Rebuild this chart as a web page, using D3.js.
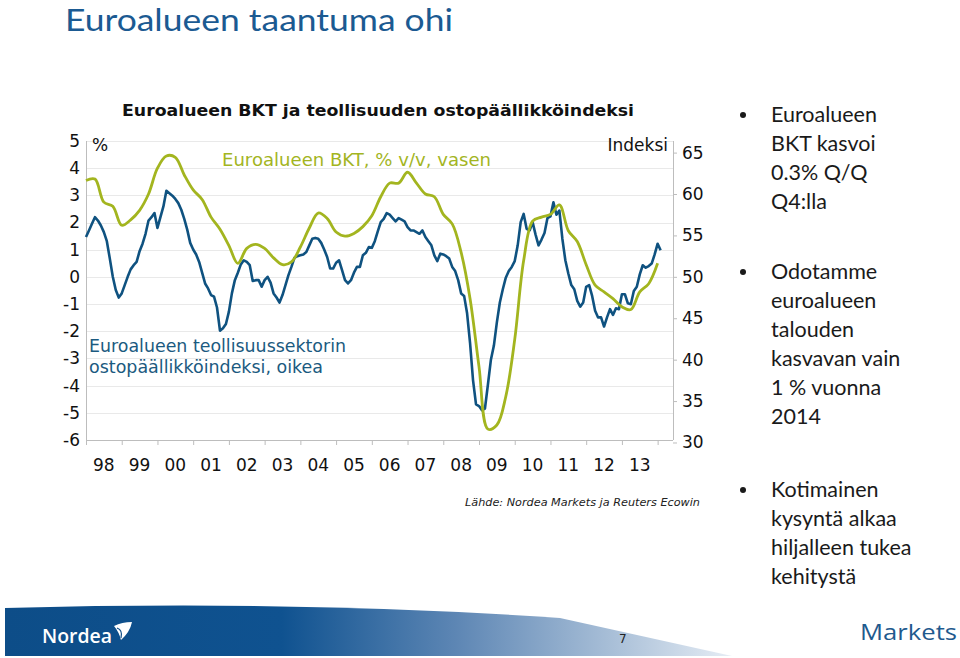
<!DOCTYPE html>
<html>
<head>
<meta charset="utf-8">
<script src="https://cdn.jsdelivr.net/npm/d3@7"></script>
<style>
  html, body { margin: 0; padding: 0; background: #fff; }
  svg { display: block; }
</style>
</head>
<body>
<script>
// ---------------- DATA ----------------
const pageTitle = "Euroalueen taantuma ohi";
const chartTitle = "Euroalueen BKT ja teollisuuden ostopäällikköindeksi";
const leftTicks = [5, 4, 3, 2, 1, 0, -1, -2, -3, -4, -5, -6];
const rightTicks = [30, 35, 40, 45, 50, 55, 60, 65];
const yearLabels = ["98","99","00","01","02","03","04","05","06","07","08","09","10","11","12","13"];
const firstYear = 1998;

// GDP y/y, quarterly (plotted at quarter end), 1997Q4 .. 2013Q4
const gdpQuarters = [
  "1997Q4",
  "1998Q1","1998Q2","1998Q3","1998Q4","1999Q1","1999Q2","1999Q3","1999Q4",
  "2000Q1","2000Q2","2000Q3","2000Q4","2001Q1","2001Q2","2001Q3","2001Q4",
  "2002Q1","2002Q2","2002Q3","2002Q4","2003Q1","2003Q2","2003Q3","2003Q4",
  "2004Q1","2004Q2","2004Q3","2004Q4","2005Q1","2005Q2","2005Q3","2005Q4",
  "2006Q1","2006Q2","2006Q3","2006Q4","2007Q1","2007Q2","2007Q3","2007Q4",
  "2008Q1","2008Q2","2008Q3","2008Q4","2009Q1","2009Q2","2009Q3","2009Q4",
  "2010Q1","2010Q2","2010Q3","2010Q4","2011Q1","2011Q2","2011Q3","2011Q4",
  "2012Q1","2012Q2","2012Q3","2012Q4","2013Q1","2013Q2","2013Q3","2013Q4"
];
const gdpValues = [
  3.55,
  3.6, 2.75, 2.6, 1.9, 2.1, 2.45, 3.05, 4.0,
  4.45, 4.4, 3.75, 3.2, 2.85, 2.2, 1.75, 1.15,
  0.5, 1.05, 1.2, 1.05, 0.7, 0.45, 0.55, 1.1,
  1.8, 2.35, 2.15, 1.65, 1.5, 1.6, 1.85, 2.25,
  2.95, 3.45, 3.45, 3.85, 3.45, 3.05, 2.95, 2.3,
  1.95, 0.9, -0.8, -3.3, -5.6, -5.45, -4.4, -2.3,
  0.6, 2.05, 2.2, 2.3, 2.65, 1.7, 1.3, 0.45,
  -0.3, -0.55, -0.8, -1.1, -1.2, -0.55, -0.25, 0.5
];

// Manufacturing PMI, monthly from Jan 1998 to Feb 2014
const pmiStart = "1998-01";
const pmiValues = [
  54.8, 55.6, 56.4, 57.2, 56.8, 56.2, 55.4, 54.3, 52.2, 50.0, 48.4, 47.5, // 1998
  48.0, 49.0, 50.0, 50.9, 51.4, 51.8, 53.1, 54.0, 55.2, 56.8, 57.2, 57.7, // 1999
  55.9, 57.2, 58.5, 60.4, 60.1, 59.8, 59.4, 58.9, 58.1, 57.0, 55.7, 54.1, // 2000
  53.3, 52.7, 51.8, 50.5, 49.2, 48.6, 47.8, 47.6, 46.3, 43.5, 43.8, 44.3, // 2001
  45.8, 48.0, 49.6, 50.5, 51.5, 52.0, 51.8, 51.4, 49.5, 49.6, 49.6, 48.8, // 2002
  49.6, 50.0, 49.3, 48.0, 47.5, 46.9, 47.8, 49.0, 50.2, 51.2, 52.3, 52.5, // 2003
  52.6, 52.7, 53.0, 53.8, 54.6, 54.7, 54.6, 54.1, 53.3, 52.4, 51.0, 51.0, // 2004
  51.7, 52.0, 50.8, 49.6, 49.2, 49.6, 50.5, 51.2, 51.2, 52.6, 52.9, 53.6, // 2005
  53.5, 54.3, 55.5, 56.6, 57.0, 57.7, 57.5, 57.1, 56.7, 57.1, 56.9, 56.7, // 2006
  56.0, 55.6, 55.6, 55.4, 55.2, 55.6, 54.8, 54.3, 53.8, 52.6, 51.9, 52.8, // 2007
  52.7, 52.5, 52.2, 51.2, 50.7, 49.6, 48.0, 47.7, 45.6, 42.0, 37.5, 34.6, // 2008
  34.4, 33.9, 34.1, 37.0, 40.0, 41.7, 44.5, 46.9, 48.5, 49.9, 50.7, 51.2, // 2009
  51.9, 53.8, 56.6, 57.6, 55.8, 55.6, 56.6, 55.1, 53.8, 54.5, 55.3, 57.1, // 2010
  57.3, 59.0, 57.5, 58.0, 54.6, 52.0, 50.4, 49.0, 48.5, 47.1, 46.4, 46.9, // 2011
  48.8, 49.0, 47.7, 45.9, 45.1, 45.1, 44.0, 45.1, 46.1, 45.4, 46.2, 46.1, // 2012
  47.9, 47.9, 46.8, 46.7, 48.3, 48.8, 50.3, 51.4, 51.1, 51.3, 51.6, 52.7, // 2013
  54.0, 53.2                                                              // 2014
];

const gdpLabel = "Euroalueen BKT, % v/v, vasen";
const pmiLabel = ["Euroalueen teollisuussektorin", "ostopäällikköindeksi, oikea"];
const sourceText = "Lähde: Nordea Markets ja Reuters Ecowin";
const bullets = [
  ["Euroalueen", "BKT kasvoi", "0.3% Q/Q", "Q4:lla"],
  ["Odotamme", "euroalueen", "talouden", "kasvavan vain", "1 % vuonna", "2014"],
  ["Kotimainen", "kysyntä alkaa", "hiljalleen tukea", "kehitystä"]
];

// ---------------- CHART ----------------
const W = 960, H = 658;
const GREEN = "#a3b51f", BLUE = "#0f5280";
const svg = d3.select("body").append("svg").attr("width", W).attr("height", H)
  .style("font-family", "'DejaVu Sans', Verdana, sans-serif");
svg.append("rect").attr("width", W).attr("height", H).attr("fill", "#fff");

// Page title
svg.append("text").attr("x", 65).attr("y", 31)
  .attr("font-family", "Lato, 'Open Sans', sans-serif").attr("font-size", 31)
  .attr("fill", "#1b5a92").attr("textLength", 388).attr("lengthAdjust", "spacingAndGlyphs")
  .text(pageTitle);

const x = d3.scaleLinear().domain([firstYear, 2014.43]).range([86, 673]);
const yL = d3.scaleLinear().domain([-6, 5]).range([440, 141]);
const yR = d3.scaleLinear().domain([30.3, 66.4]).range([440, 141]);

// gridlines
svg.append("g").selectAll("line").data(leftTicks).join("line")
  .attr("x1", x.range()[0]).attr("x2", x.range()[1])
  .attr("y1", d => Math.round(yL(d)) + 0.5).attr("y2", d => Math.round(yL(d)) + 0.5)
  .attr("stroke", "#e9e9e9").attr("stroke-width", 1);

// chart title
svg.append("text").attr("x", 378).attr("y", 116).attr("text-anchor", "middle")
  .attr("font-weight", "bold").attr("font-size", 16).attr("fill", "#111")
  .attr("textLength", 512).attr("lengthAdjust", "spacingAndGlyphs")
  .text(chartTitle);

// axes
const axisColor = "#bdbdbd";
const plain = d => String(d);
const gL = svg.append("g").attr("transform", "translate(86,0)")
  .call(d3.axisLeft(yL).tickValues(leftTicks).tickFormat(plain).tickSize(0).tickPadding(6));
const gR = svg.append("g").attr("transform", "translate(673,0)")
  .call(d3.axisRight(yR).tickValues(rightTicks).tickFormat(plain).tickSize(4).tickPadding(5));
const years = d3.range(firstYear, firstYear + yearLabels.length + 1);
const gX = svg.append("g").attr("transform", "translate(0,440)")
  .call(d3.axisBottom(x).tickValues(years).tickSize(5).tickFormat(""));
[gL, gR, gX].forEach(g => {
  g.selectAll(".domain").attr("stroke", axisColor);
  g.selectAll(".tick line").attr("stroke", axisColor);
  g.selectAll("text").attr("font-size", 17).attr("fill", "#111")
    .attr("font-family", "'DejaVu Sans', Verdana, sans-serif");
});
gX.select(".domain").attr("d", `M${x.range()[0]},0.5H${x.range()[1]}`);
gL.select(".domain").attr("d", `M0.5,${yL.range()[1]}V${yL.range()[0]}`);
gR.select(".domain").attr("d", `M0.5,${yL.range()[1]}V${yL.range()[0]}`);

// year labels centered in each year
svg.append("g").selectAll("text").data(yearLabels).join("text")
  .attr("x", (d, i) => x(firstYear + i + 0.5)).attr("y", 471)
  .attr("text-anchor", "middle").attr("font-size", 17).attr("fill", "#111")
  .text(d => d);

// axis titles
svg.append("text").attr("x", 92).attr("y", 151).attr("font-size", 17).attr("fill", "#111").text("%");
svg.append("text").attr("x", 668).attr("y", 151).attr("text-anchor", "end")
  .attr("font-size", 17).attr("fill", "#111").text("Indeksi");

// series data
const qTime = q => +q.slice(0, 4) + (+q.slice(5)) / 4;
const gdp = gdpQuarters.map((q, i) => ({ t: qTime(q), v: gdpValues[i] }));
const pStartY = +pmiStart.slice(0, 4), pStartM = +pmiStart.slice(5) - 1;
const pmi = pmiValues.map((v, i) => ({ t: pStartY + (pStartM + i) / 12, v }));

const plot = svg.append("g");
plot.append("path").datum(pmi)
  .attr("fill", "none").attr("stroke", BLUE).attr("stroke-width", 2.6).attr("stroke-linejoin", "round")
  .attr("d", d3.line().x(d => x(d.t)).y(d => yR(d.v)));
plot.append("path").datum(gdp)
  .attr("fill", "none").attr("stroke", GREEN).attr("stroke-width", 2.8).attr("stroke-linejoin", "round")
  .attr("d", d3.line().curve(d3.curveCatmullRom.alpha(0.5)).x(d => x(d.t)).y(d => yL(d.v)));

// series labels
svg.append("text").attr("x", 222).attr("y", 166).attr("font-size", 17).attr("fill", GREEN)
  .attr("textLength", 269).attr("lengthAdjust", "spacingAndGlyphs").text(gdpLabel);
svg.append("text").attr("x", 89).attr("y", 352).attr("font-size", 17).attr("fill", "#1b5a80")
  .attr("textLength", 257).attr("lengthAdjust", "spacingAndGlyphs").text(pmiLabel[0]);
svg.append("text").attr("x", 89).attr("y", 373).attr("font-size", 17).attr("fill", "#1b5a80")
  .attr("textLength", 234).attr("lengthAdjust", "spacingAndGlyphs").text(pmiLabel[1]);

// source
svg.append("text").attr("x", 465).attr("y", 506).attr("font-size", 11).attr("font-style", "italic")
  .attr("fill", "#222").attr("textLength", 235).attr("lengthAdjust", "spacingAndGlyphs").text(sourceText);

// bullets
const bulletStarts = [122, 279, 497];
const bg = svg.append("g").attr("font-family", "Lato, 'Open Sans', sans-serif").attr("fill", "#1a1a1a");
bullets.forEach((lines, bi) => {
  bg.append("circle").attr("cx", 743).attr("cy", bulletStarts[bi] - 7).attr("r", 3).attr("fill", "#1a1a1a");
  lines.forEach((ln, li) => {
    bg.append("text").attr("x", 771).attr("y", bulletStarts[bi] + li * 29)
      .attr("font-size", 21.5).text(ln);
  });
});

// footer
const defs = svg.append("defs");
const grad = defs.append("linearGradient").attr("id", "foot").attr("x1", "0").attr("x2", "1").attr("y1", "0").attr("y2", "0");
grad.append("stop").attr("offset", "0").attr("stop-color", "#0d4d88");
grad.append("stop").attr("offset", "0.38").attr("stop-color", "#0f5290");
grad.append("stop").attr("offset", "0.62").attr("stop-color", "#5d86b4");
grad.append("stop").attr("offset", "0.85").attr("stop-color", "#aec3da");
grad.append("stop").attr("offset", "1").attr("stop-color", "#e6edf5");
svg.append("path").attr("d", "M5,608 Q300,600 560,618 L732,656 L5,656 Z").attr("fill", "url(#foot)");

// Nordea logo
svg.append("text").attr("x", 42).attr("y", 643).attr("font-family", "'Open Sans', sans-serif")
  .attr("font-size", 19).attr("font-weight", 600).attr("fill", "#fff")
  .attr("textLength", 70).attr("lengthAdjust", "spacingAndGlyphs").text("Nordea");
svg.append("path").attr("d", "M114,626 Q122,622 132,622 Q130,632 121,640 Q119,632 114,626 Z").attr("fill", "#fff");
svg.append("path").attr("d", "M117,628 Q123,630 121,638").attr("fill", "none").attr("stroke", "#0d4d88").attr("stroke-width", 1.2);

svg.append("text").attr("x", 619).attr("y", 643).attr("font-size", 12).attr("fill", "#222").text("7");
svg.append("text").attr("x", 860).attr("y", 640).attr("font-family", "'Open Sans', sans-serif")
  .attr("font-size", 22).attr("fill", "#1f5a8e")
  .attr("textLength", 97).attr("lengthAdjust", "spacingAndGlyphs").text("Markets");
</script>
</body>
</html>
